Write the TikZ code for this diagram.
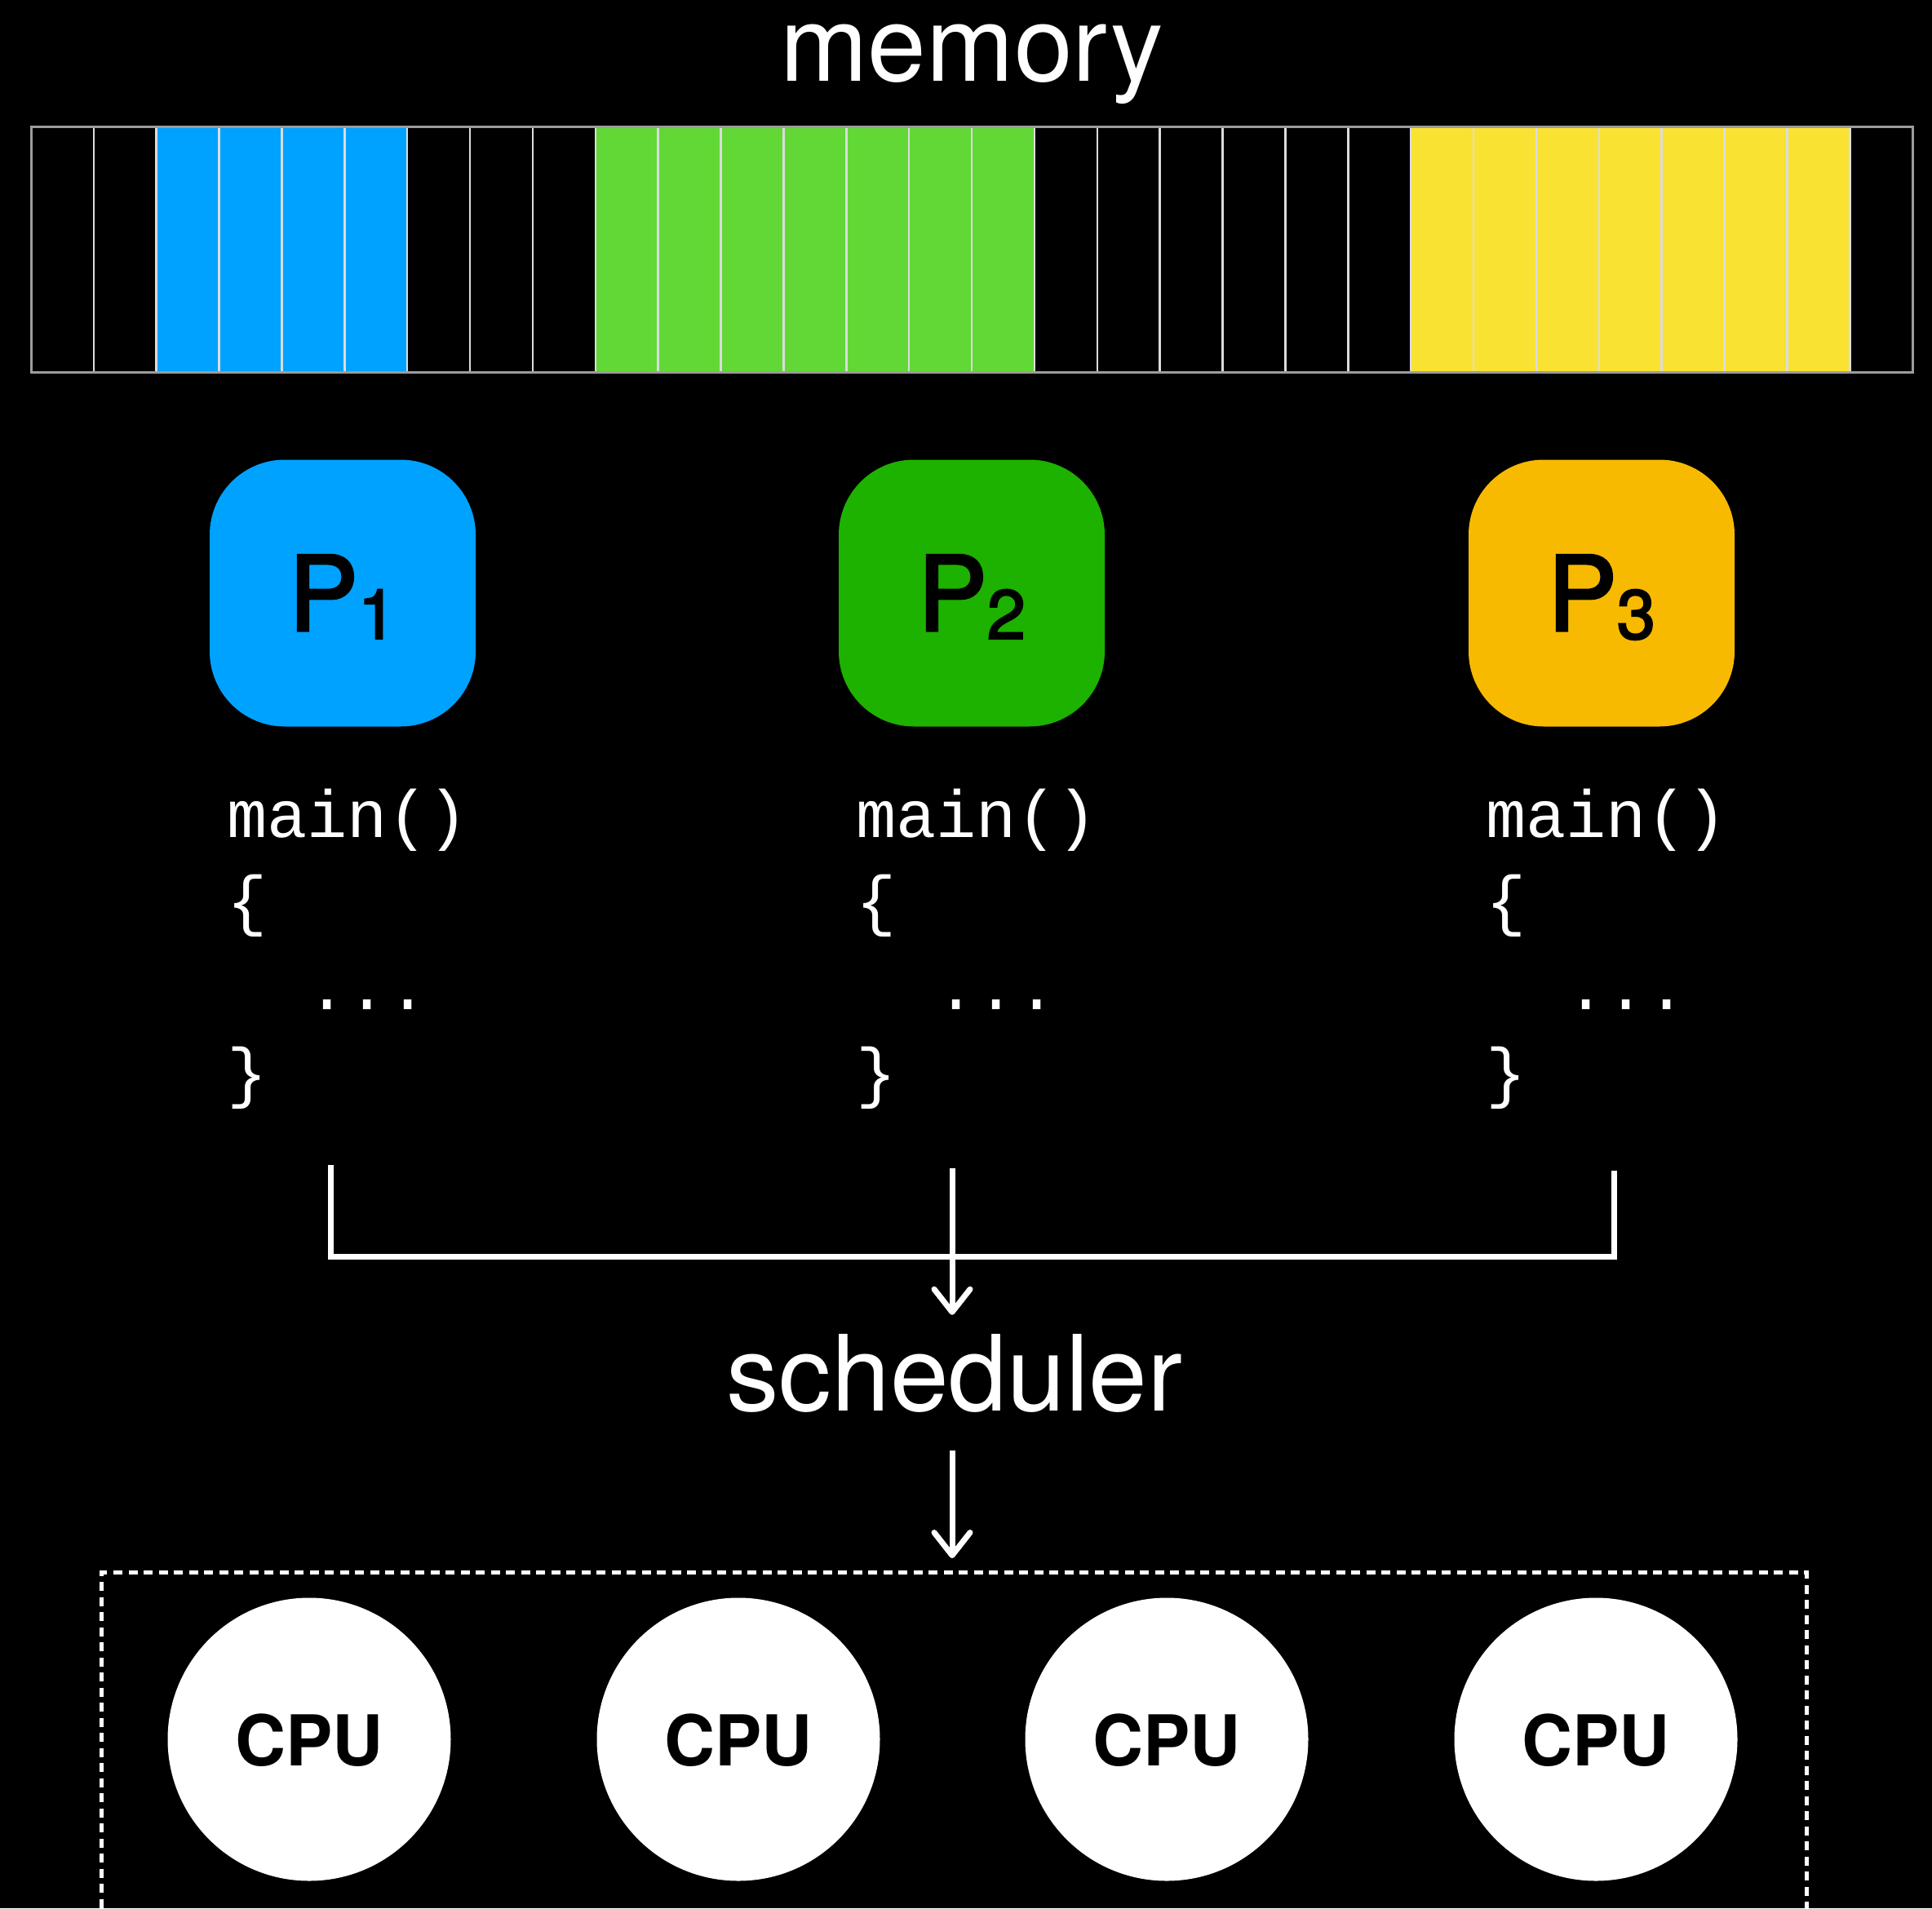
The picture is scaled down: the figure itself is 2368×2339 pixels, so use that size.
\documentclass[tikz,border=0pt]{standalone}
\usepackage{fontspec}
\setmainfont{TeX Gyre Heros}
\newfontfamily\codefont{Liberation Mono}
\newfontfamily\procfont[FakeBold=2.6]{TeX Gyre Heros}
\usetikzlibrary{arrows.meta}

% palette
\definecolor{cellK}{HTML}{000000}
\definecolor{cellB}{HTML}{00A2FF}
\definecolor{cellG}{HTML}{61D836}
\definecolor{cellY}{HTML}{FAE232}
\definecolor{procB}{HTML}{00A2FF}
\definecolor{procG}{HTML}{1DB100}
\definecolor{procY}{HTML}{F8BA00}
\definecolor{cellsep}{HTML}{DCDCDC}
\definecolor{cellframe}{HTML}{9C9C9C}

\tikzset{
  title/.style={anchor=base, inner sep=0pt, text=white,
    font={\fontsize{129}{140}\selectfont}},
  procbox/.style={minimum width=326pt, minimum height=327pt,
    rounded corners=92pt, inner sep=0pt, text height=92pt, text depth=0pt,
    text=black, font={\procfont\fontsize{127}{140}\selectfont}},
  codeline/.style={anchor=base west, inner sep=0pt, text=white,
    font={\codefont\fontsize{82}{100}\selectfont}},
  conn/.style={draw=white, line width=7pt},
  tip/.style={-{Straight Barb[round, length=28pt, width=44pt]}},
  cpu/.style={circle, fill=white, minimum size=347pt, inner sep=0pt,
    text height=65pt, text depth=0pt, text=black,
    font={\bfseries\fontsize{86}{100}\selectfont}},
  cpuframe/.style={draw=white, line width=5pt, dash pattern=on 11pt off 7.5pt,
    minimum width=2090pt, minimum height=600pt, inner sep=0pt, anchor=north west}
}

\newcommand{\procname}[1]{P\raisebox{-10pt}{\fontsize{85}{90}\selectfont #1}}

\begin{document}
\begin{tikzpicture}[x=1pt, y=-1pt]
\useasboundingbox[fill=black] (0,0) rectangle (2368,2339);

% memory strip: 30 cells
\node[title] (mem) at (1191,100) {memory};
\foreach \c [count=\i from 0] in {K,K,B,B,B,B,K,K,K,G,G,G,G,G,G,G,K,K,K,K,K,K,Y,Y,Y,Y,Y,Y,Y,K}
  \fill[cell\c] ({38+\i*76.87},155) rectangle ++(76.87,301);
\foreach \i in {1,...,29}
  \draw[cellsep, line width=2.5pt] ({38+\i*76.87},155) -- ++(0,301);
\draw[cellframe, line width=3pt] (38,155) rectangle (2344,456);

% processes
\node[procbox, fill=procB] (p1) at (420,727) {\procname{1}};
\node[procbox, fill=procG] (p2) at (1191,727) {\procname{2}};
\node[procbox, fill=procY] (p3) at (1963,727) {\procname{3}};

% program text under each process
\foreach \x/\n in {278/1, 1049/2, 1821/3} {
  \node[codeline] (main\n)  at (\x,1026)   {main()};
  \node[codeline] (open\n)  at (\x,1131.5) {\{};
  \node[codeline] (body\n)  at (\x,1237)   {\ \ ...};
  \node[codeline] (close\n) at (\x,1342.5) {\}};
}

% scheduler
\node[title] (sched) at (1170,1729) {scheduler};

% connectors from the three programs to the scheduler
\coordinate (t1) at (405,1428);
\coordinate (t2) at (1167,1432);
\coordinate (t3) at (1978,1435);
\coordinate (bus) at (0,1540);
\draw[conn] (t1) -- (t1 |- bus) -- (t3 |- bus) -- (t3);
\draw[conn, tip, shorten >=23pt] (t2) -- (t2 |- sched.north);

% CPU pool
\node[cpuframe] (pool) at (122,1925) {};
\draw[conn, tip, shorten <=47pt, shorten >=15pt] (t2 |- sched.south) -- (t2 |- pool.north);

\node[cpu] (cpu1) at (379,2132)  {CPU};
\node[cpu] (cpu2) at (905,2132)  {CPU};
\node[cpu] (cpu3) at (1430,2132) {CPU};
\node[cpu] (cpu4) at (1956,2132) {CPU};
\end{tikzpicture}
\end{document}
